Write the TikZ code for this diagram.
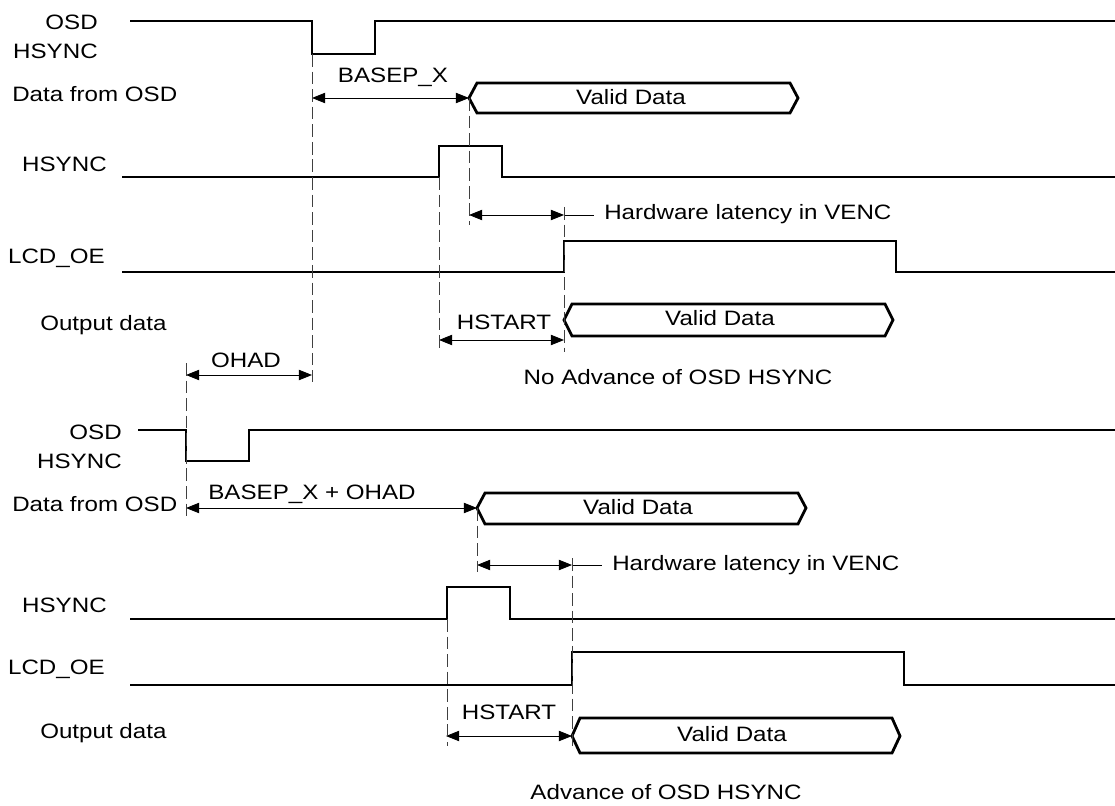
\documentclass[tikz,border=0pt]{standalone}
\usepackage{fontspec}
\setmainfont[FakeStretch=1.16]{Liberation Sans}
\usetikzlibrary{positioning,arrows.meta}

\begin{document}
\begin{tikzpicture}[x=0.025cm,y=-0.025cm,
			every node/.style={
				inner sep=0pt,
				font=\fontsize{14.8}{21}\selectfont},
			sig/.style={line width=2pt},
			bus/.style={line width=2pt},
			dim/.style={line width=0.6pt,
				{Triangle[length=0.33cm,width=0.26cm]}-{Triangle[length=0.33cm,width=0.26cm]}},
			guide/.style={line width=0.6pt,black!75,dash pattern=on 9pt off 3.5pt},
			lbl/.style={anchor=east,align=right}]
			
			\useasboundingbox (0,0) rectangle (1115,806);
			
			% no advance of OSD HSYNC
			\node[lbl] (osdA) at (98,37) {OSD\\HSYNC};
			\draw[sig] (130,21) -- (312,21) -- (312,54) -- (375,54) -- (375,21) -- (1115,21);
			
			\node[anchor=west] (datA) at (12,94) {Data from OSD};
			\draw[bus] (469,98) -- (477,83) -- (790,83) -- (798,98) -- (790,113) -- (477,113) -- cycle;
			\node (vdA) at (631,97) {Valid Data};
			
			\coordinate (bxL) at (312,98);
			\coordinate (bxR) at (469,98);
			\draw[dim] (bxL) -- (bxR);
			\node (bxT) at (393,77) {BASEP\_X};
			
			\node[lbl] (hsA) at (107,164) {HSYNC};
			\draw[sig] (122,177) -- (439,177) -- (439,146) -- (502,146) -- (502,177) -- (1115,177);
			
			\coordinate (hwL) at (469,215);
			\coordinate (hwR) at (564,215);
			\draw[dim] (hwL) -- (hwR);
			\node[anchor=west] (hwA) at (604,214) {Hardware latency in VENC};
			\draw[line width=0.6pt] (hwR) -- ([xshift=-7pt]hwA.west |- hwR);
			
			\node[lbl] (lcdA) at (105,258) {LCD\_OE};
			\draw[sig] (122,272) -- (564,272) -- (564,241) -- (896,241) -- (896,272) -- (1115,272);
			
			\node[anchor=west] (outA) at (40,325) {Output data};
			\draw[bus] (564,320) -- (572,304) -- (885,304) -- (893,320) -- (885,336) -- (572,336) -- cycle;
			\node (vdB) at (720,318) {Valid Data};
			
			\coordinate (hsL) at (439,340);
			\coordinate (hsR) at (564,340);
			\draw[dim] (hsL) -- (hsR);
			\node (hsT) at (504,322) {HSTART};
			
			\node (capA) at (678,377) {No Advance of OSD HSYNC};
			
			\draw[guide] (312,54) -- (312,382);
			\draw[guide] (469,98) -- (469,225);
			\draw[guide] (439,177) -- (439,352);
			\draw[guide] (564,207) -- (564,352);
			
			% OHAD
			\coordinate (ohL) at (186,375);
			\coordinate (ohR) at (312,375);
			\draw[dim] (ohL) -- (ohR);
			\node (ohT) at (246,360) {OHAD};
			
			% advance of OSD HSYNC
			\node[lbl] (osdB) at (122,447) {OSD\\HSYNC};
			\draw[sig] (138,430) -- (186,430) -- (186,461) -- (249,461) -- (249,430) -- (1115,430);
			
			\node[anchor=west] (datB) at (12,504) {Data from OSD};
			\draw[bus] (477,508) -- (485,493) -- (798,493) -- (806,508) -- (798,524) -- (485,524) -- cycle;
			\node (vdC) at (638,507) {Valid Data};
			
			\coordinate (boL) at (186,508);
			\coordinate (boR) at (477,508);
			\draw[dim] (boL) -- (boR);
			\node (boT) at (312,494) {BASEP\_X + OHAD};
			
			\coordinate (hwC) at (477,565);
			\coordinate (hwD) at (572,565);
			\draw[dim] (hwC) -- (hwD);
			\node[anchor=west] (hwB) at (612,565) {Hardware latency in VENC};
			\draw[line width=0.6pt] (hwD) -- ([xshift=-7pt]hwB.west |- hwD);
			
			\node[lbl] (hsB) at (107,605) {HSYNC};
			\draw[sig] (130,619) -- (447,619) -- (447,587) -- (510,587) -- (510,619) -- (1115,619);
			
			\node[lbl] (lcdB) at (105,669) {LCD\_OE};
			\draw[sig] (130,685) -- (572,685) -- (572,652) -- (904,652) -- (904,685) -- (1115,685);
			
			\node[anchor=west] (outB) at (40,733) {Output data};
			\draw[bus] (572,736) -- (580,718) -- (892,718) -- (900,736) -- (892,753) -- (580,753) -- cycle;
			\node (vdD) at (732,734) {Valid Data};
			
			\coordinate (hsC) at (446,736);
			\coordinate (hsD) at (572,736);
			\draw[dim] (hsC) -- (hsD);
			\node (hsU) at (509,712) {HSTART};
			
			\node (capB) at (666,792) {Advance of OSD HSYNC};
			
			\draw[guide] (186,363) -- (186,517);
			\draw[guide] (477,508) -- (477,572);
			\draw[guide] (447,619) -- (447,746);
			\draw[guide] (572,558) -- (572,746);
			
		\end{tikzpicture}
\end{document}
